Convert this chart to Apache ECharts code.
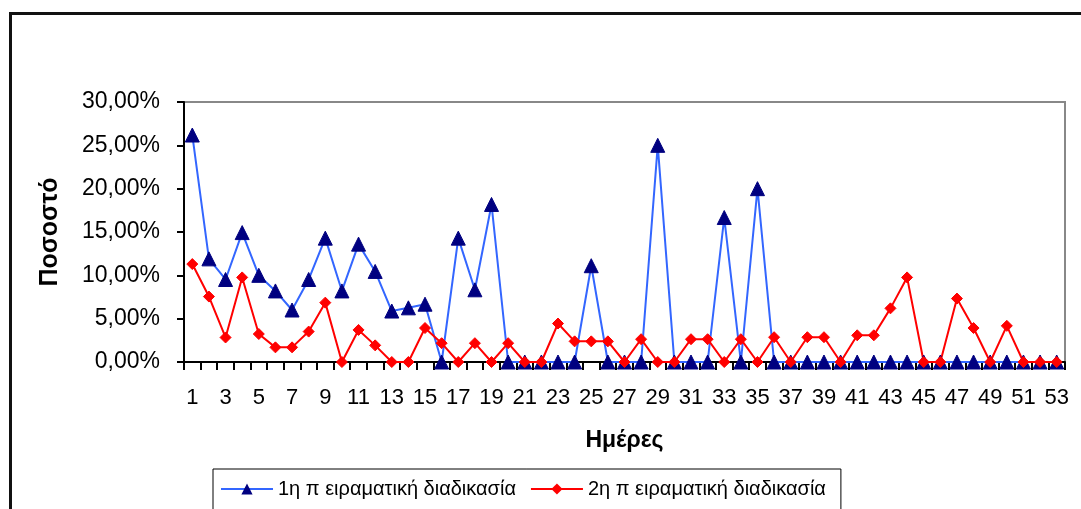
<!DOCTYPE html>
<html>
<head>
<meta charset="utf-8">
<script src="https://cdn.jsdelivr.net/npm/echarts@6/dist/echarts.min.js"></script>
<style>
html,body{margin:0;padding:0;background:#fff;}
#chart{width:1081px;height:509px;}
</style>
</head>
<body>
<div id="chart"></div>
<script>
var days = [];
for (var d = 1; d <= 53; d++) { days.push(String(d)); }

var series1Name = '1η π ειραματική διαδικασία';
var series2Name = '2η π ειραματική διαδικασία';

var series1 = [26.19, 11.9, 9.52, 14.93, 10.0, 8.2, 6.0, 9.52, 14.29, 8.2,
  13.6, 10.45, 5.88, 6.25, 6.67, 0, 14.29, 8.33, 18.18, 0,
  0, 0, 0, 0, 11.11, 0, 0, 0, 25.0, 0,
  0, 0, 16.67, 0, 20.0, 0, 0, 0, 0, 0,
  0, 0, 0, 0, 0, 0, 0, 0, 0, 0,
  0, 0, 0];

var series2 = [11.3, 7.55, 2.83, 9.76, 3.23, 1.69, 1.69, 3.51, 6.85, 0,
  3.7, 1.92, 0, 0, 3.92, 2.17, 0, 2.17, 0, 2.17,
  0, 0, 4.44, 2.38, 2.38, 2.38, 0, 2.63, 0, 0,
  2.63, 2.63, 0, 2.63, 0, 2.86, 0, 2.86, 2.86, 0,
  3.08, 3.08, 6.19, 9.76, 0, 0, 7.32, 3.92, 0, 4.17,
  0, 0, 0];

var xTitle = 'Ημέρες';
var yTitle = 'Ποσοστό';

var FONT = '"Liberation Sans", Arial, sans-serif';
var chart = echarts.init(document.getElementById('chart'));
chart.setOption({
  animation: false,
  backgroundColor: '#fff',
  textStyle: { fontFamily: FONT },
  graphic: [{
    type: 'rect',
    shape: { x: 10.5, y: 13.5, width: 1200, height: 600 },
    style: { fill: 'none', stroke: '#111', lineWidth: 3 },
    silent: true, z: -1
  }],
  grid: {
    left: 184, top: 102, right: 16, bottom: 147,
    show: true, borderColor: '#888', borderWidth: 2, backgroundColor: 'transparent'
  },
  legend: {
    left: 213, top: 469,
    itemWidth: 52, itemHeight: 14, itemGap: 14,
    padding: [10, 15, 40, 7],
    borderColor: '#000', borderWidth: 1,
    textStyle: { fontSize: 20, color: '#000', fontFamily: FONT },
    data: [series1Name, series2Name]
  },
  xAxis: {
    type: 'category',
    data: days,
    boundaryGap: true,
    name: xTitle,
    nameLocation: 'middle',
    nameGap: 67,
    nameTextStyle: { fontSize: 23, fontWeight: 'bold', color: '#000', fontFamily: FONT },
    axisLine: { lineStyle: { color: '#000', width: 2 } },
    axisTick: { show: true, interval: 0, length: 8, lineStyle: { color: '#000', width: 2 } },
    axisLabel: { interval: 1, fontSize: 22, color: '#000', margin: 25, fontFamily: FONT },
    splitLine: { show: false }
  },
  yAxis: {
    type: 'value',
    min: 0, max: 30, interval: 5,
    name: yTitle,
    nameLocation: 'middle',
    nameGap: 121,
    nameTextStyle: { fontSize: 25, fontWeight: 'bold', color: '#000', fontFamily: FONT },
    axisLine: { show: true, lineStyle: { color: '#000', width: 2 } },
    axisTick: { show: true, length: 7, lineStyle: { color: '#000', width: 2 } },
    axisLabel: {
      fontSize: 23, color: '#000', margin: 24, fontFamily: FONT,
      formatter: function (v) { return v.toFixed(2).replace('.', ',') + '%'; }
    },
    splitLine: { show: false }
  },
  series: [{
    name: series1Name,
    type: 'line',
    data: series1,
    symbol: 'triangle',
    symbolSize: 14,
    showAllSymbol: true,
    lineStyle: { color: '#3366ff', width: 2 },
    itemStyle: { color: '#000080', borderColor: '#000080' }
  }, {
    name: series2Name,
    type: 'line',
    data: series2,
    symbol: 'diamond',
    symbolSize: 11,
    showAllSymbol: true,
    lineStyle: { color: '#ff0000', width: 2 },
    itemStyle: { color: '#ff0000', borderColor: '#ff0000' }
  }]
});
</script>
</body>
</html>
